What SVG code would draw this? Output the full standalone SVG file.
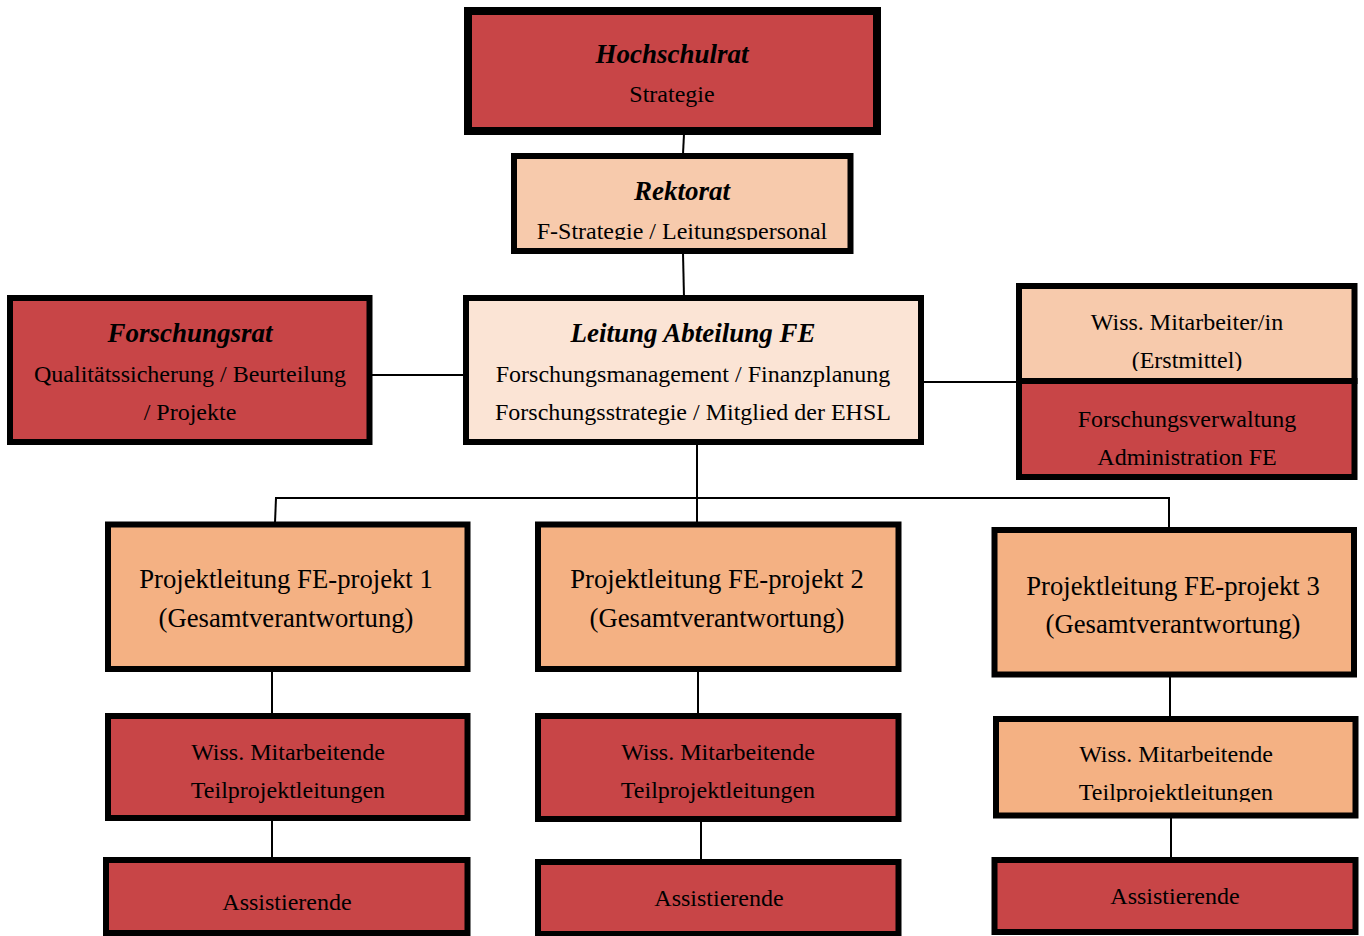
<svg xmlns="http://www.w3.org/2000/svg" width="1364" height="936" viewBox="0 0 1364 936">
<style>
.box{stroke:#000;stroke-width:6}
.red{fill:#C84547}
.peach{fill:#F7CAAC}
.orange{fill:#F4B183}
.pale{fill:#FBE4D5}
text{font-family:"Liberation Serif","Times New Roman",serif;fill:#000;text-anchor:middle}
.t{font-size:27px;font-weight:bold;font-style:italic}
.b{font-size:24px}
.p{font-size:26.7px}
.conn line{stroke:#000;stroke-width:2}
</style>
<defs>
<clipPath id="clipRek"><rect x="0" y="0" width="1364" height="240"/></clipPath>
<clipPath id="clipErst"><rect x="0" y="0" width="1364" height="371"/></clipPath>
<clipPath id="clipW3"><rect x="0" y="0" width="1364" height="802"/></clipPath>
</defs>
<rect width="1364" height="936" fill="#fff"/>
<g id="connectors" class="conn">
<line x1="684" y1="134" x2="683" y2="154"/>
<line x1="683" y1="253" x2="684" y2="297"/>
<line x1="371" y1="375" x2="466" y2="375"/>
<line x1="923" y1="382" x2="1018" y2="382"/>
<line x1="697" y1="444" x2="697" y2="528"/>
<line x1="275" y1="498" x2="1170" y2="498"/>
<line x1="276" y1="498" x2="275" y2="523"/>
<line x1="1169" y1="498" x2="1169" y2="528"/>
<line x1="272" y1="671" x2="272" y2="715"/>
<line x1="272" y1="820" x2="272" y2="859"/>
<line x1="698" y1="671" x2="698" y2="715"/>
<line x1="701" y1="821" x2="701" y2="861"/>
<line x1="1170" y1="676" x2="1170" y2="722"/>
<line x1="1171" y1="813" x2="1171" y2="859"/>
</g>
<g id="hochschulrat">
<rect class="box red" x="468" y="11" width="409" height="120" style="stroke-width:8"/>
<text class="t" x="672" y="63">Hochschulrat</text>
<text class="b" x="672" y="102">Strategie</text>
</g>
<g id="rektorat">
<rect class="box peach" x="514" y="156" width="336.5" height="95"/>
<text class="t" x="682" y="200">Rektorat</text>
<text class="b" x="682" y="239" clip-path="url(#clipRek)">F-Strategie / Leitungspersonal</text>
</g>
<g id="forschungsrat">
<rect class="box red" x="10" y="298" width="359.5" height="144"/>
<text class="t" x="190" y="342">Forschungsrat</text>
<text class="b" x="190" y="382">Qualitätssicherung / Beurteilung</text>
<text class="b" x="190" y="420">/ Projekte</text>
</g>
<g id="leitung">
<rect class="box pale" x="466" y="298" width="455" height="144"/>
<text class="t" x="693" y="342">Leitung Abteilung FE</text>
<text class="b" x="693" y="382">Forschungsmanagement / Finanzplanung</text>
<text class="b" x="693" y="420">Forschungsstrategie / Mitglied der EHSL</text>
</g>
<g id="wiss-mitarbeiter">
<rect class="box peach" x="1019" y="286" width="335.5" height="95"/>
<text class="b" x="1187" y="330">Wiss. Mitarbeiter/in</text>
<text class="b" x="1187" y="368" clip-path="url(#clipErst)">(Erstmittel)</text>
</g>
<g id="forschungsverwaltung">
<rect class="box red" x="1019" y="381" width="335.5" height="96"/>
<text class="b" x="1187" y="427">Forschungsverwaltung</text>
<text class="b" x="1187" y="465">Administration FE</text>
</g>
<g id="projekt1">
<rect class="box orange" x="108" y="524.5" width="359.5" height="144.5"/>
<text class="p" x="286" y="588">Projektleitung FE-projekt 1</text>
<text class="p" x="286" y="627">(Gesamtverantwortung)</text>
</g>
<g id="projekt2">
<rect class="box orange" x="538" y="524.5" width="360.5" height="144.5"/>
<text class="p" x="717" y="588">Projektleitung FE-projekt 2</text>
<text class="p" x="717" y="627">(Gesamtverantwortung)</text>
</g>
<g id="projekt3">
<rect class="box orange" x="994.5" y="530" width="359.5" height="144.5"/>
<text class="p" x="1173" y="595">Projektleitung FE-projekt 3</text>
<text class="p" x="1173" y="633">(Gesamtverantwortung)</text>
</g>
<g id="wiss1">
<rect class="box red" x="108" y="716" width="359.5" height="102"/>
<text class="b" x="288" y="760">Wiss. Mitarbeitende</text>
<text class="b" x="288" y="798">Teilprojektleitungen</text>
</g>
<g id="wiss2">
<rect class="box red" x="538" y="716" width="360.5" height="103"/>
<text class="b" x="718" y="760">Wiss. Mitarbeitende</text>
<text class="b" x="718" y="798">Teilprojektleitungen</text>
</g>
<g id="wiss3">
<rect class="box orange" x="996" y="719" width="359.5" height="96.5"/>
<text class="b" x="1176" y="762">Wiss. Mitarbeitende</text>
<text class="b" x="1176" y="800" clip-path="url(#clipW3)">Teilprojektleitungen</text>
</g>
<g id="assist1">
<rect class="box red" x="106" y="860" width="361.5" height="73"/>
<text class="b" x="287" y="910">Assistierende</text>
</g>
<g id="assist2">
<rect class="box red" x="538" y="862" width="360.5" height="72"/>
<text class="b" x="719" y="906">Assistierende</text>
</g>
<g id="assist3">
<rect class="box red" x="994.5" y="860" width="361" height="72"/>
<text class="b" x="1175" y="904">Assistierende</text>
</g>
</svg>
